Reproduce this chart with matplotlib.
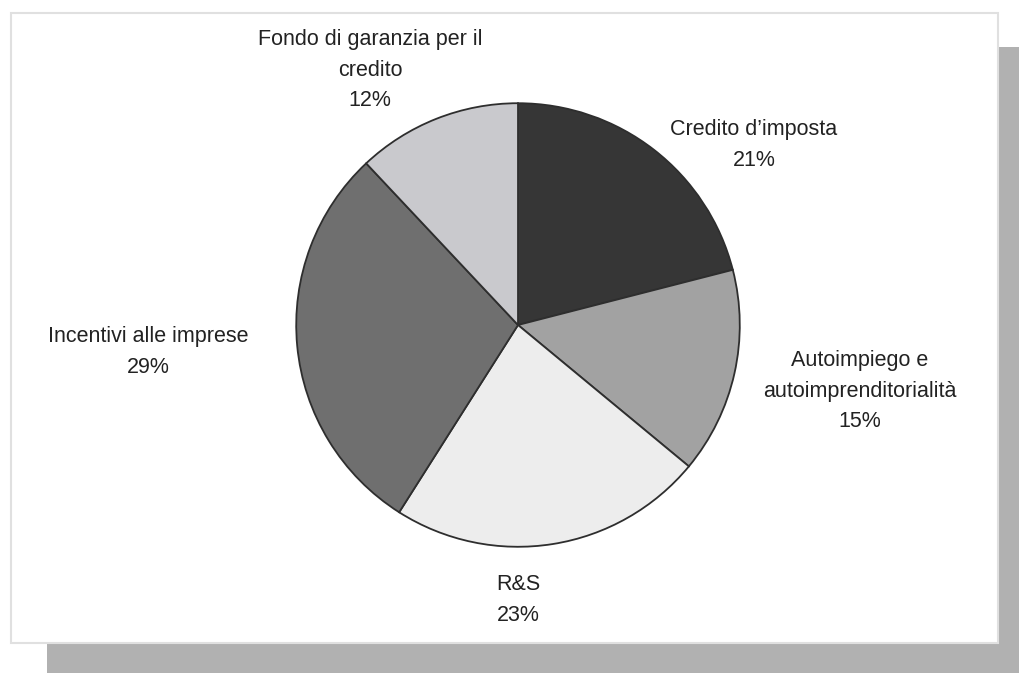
import matplotlib.pyplot as plt
from matplotlib.patches import Rectangle

# Ripartizione delle risorse per strumento
categorie = ["Credito d’imposta", "Autoimpiego e\nautoimprenditorialità", "R&S",
             "Incentivi alle imprese", "Fondo di garanzia per il\ncredito"]
quote = [21, 15, 23, 29, 12]
colori = ["#363636", "#a2a2a2", "#ededed", "#6f6f6f", "#c9c9cd"]

# posizione delle etichette (pixel dell'immagine, centro del blocco di testo)
pos_etichette = [(754, 145), (860, 391), (518, 600), (148, 352), (370, 70)]

W, H = 1019, 673
plt.rcParams['font.family'] = ['Liberation Sans', 'DejaVu Sans']

fig = plt.figure(figsize=(W / 100, H / 100), dpi=100)
fig.patch.set_facecolor("white")

# ombra e riquadro
def px_rect(x0, y0, x1, y1, **kw):
    return Rectangle((x0 / W, 1 - y1 / H), (x1 - x0) / W, (y1 - y0) / H,
                     transform=fig.transFigure, **kw)

fig.patches.append(px_rect(47, 47, W + 5, H + 5, facecolor="#b1b1b1", edgecolor="none", zorder=0))
fig.patches.append(px_rect(11, 13, 998, 643, facecolor="white", edgecolor="#e0e0e0",
                           linewidth=1.5, zorder=1))

# torta
cx, cy, r = 518, 325, 224
ax = fig.add_axes([(cx - r) / W, 1 - (cy + r) / H, 2 * r / W, 2 * r / H])
ax.set_zorder(2)
ax.patch.set_visible(False)
ax.pie(quote, colors=colori, startangle=90, counterclock=False, radius=1,
       wedgeprops=dict(edgecolor="#2e2e2e", linewidth=1.3))
ax.set_xlim(-1.01, 1.01)
ax.set_ylim(-1.01, 1.01)
ax.set_aspect("equal")
ax.axis("off")

for nome, q, (x, y) in zip(categorie, quote, pos_etichette):
    fig.text(x / W, 1 - y / H, f"{nome}\n{q}%", ha="center", va="center",
             fontsize=15.5, color="#222222", linespacing=1.6, zorder=3)

fig.savefig("out.png", dpi=100)
